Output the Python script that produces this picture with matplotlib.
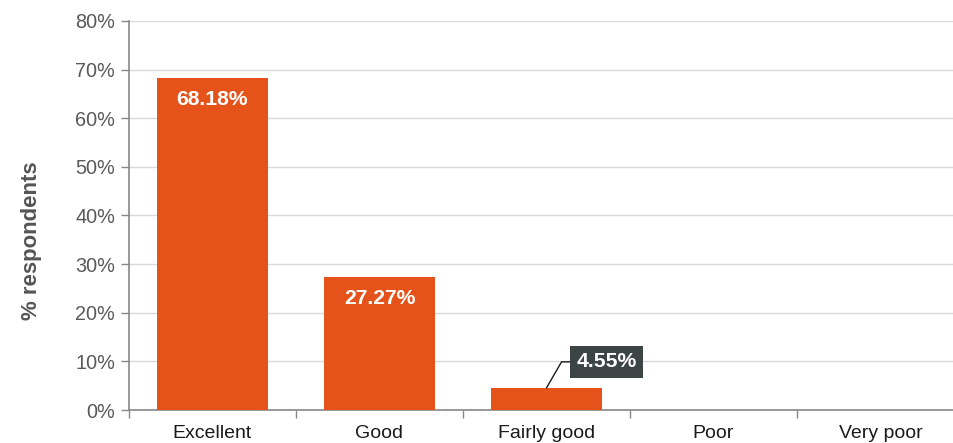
import matplotlib
matplotlib.use("Agg")
import matplotlib.pyplot as plt
import numpy as np

categories = ["Excellent", "Good", "Fairly good", "Poor", "Very poor"]
values = [68.18, 27.27, 4.55, 0, 0]
yticks = [0, 10, 20, 30, 40, 50, 60, 70, 80]

plt.rcParams['font.family'] = ['Liberation Sans', 'DejaVu Sans']

fig = plt.figure(figsize=(9.54, 4.43), dpi=100)
W, H = 954, 443
left, right = 129, 964
top, bottom = 21, 410
ax = fig.add_axes([left / W, 1 - bottom / H, (right - left) / W, (bottom - top) / H])

x = np.arange(len(categories))
bars = ax.bar(x, values, width=0.665, color="#e5531a", zorder=3)

ax.set_xlim(-0.5, len(categories) - 0.5)
ax.set_ylim(0, 80)
ax.set_yticks(yticks)
ax.set_yticklabels([f"{v}%" for v in yticks], color="#595959", fontsize=14.3)
ax.yaxis.grid(True, color="#d9d9d9", linewidth=1, zorder=0)
ax.set_axisbelow(True)

ax.set_xticks(x)
ax.set_xticklabels(categories, fontsize=14, color="#1a1a1a")
ax.set_xticks(np.arange(len(categories) + 1) - 0.5, minor=True)
ax.tick_params(axis='x', which='major', length=0, pad=11)
ax.tick_params(axis='x', which='minor', length=6, color="#888888", width=1)
ax.tick_params(axis='y', length=6, color="#888888", width=1, pad=4)

for s in ["top", "right"]:
    ax.spines[s].set_visible(False)
for s in ["left", "bottom"]:
    ax.spines[s].set_color("#888888")
    ax.spines[s].set_linewidth(1.2)

ax.set_ylabel("% respondents", fontsize=15.9, fontweight="bold", color="#555555")
ax.yaxis.set_label_coords(-0.104, 0.434)

for i, v in enumerate(values):
    if v >= 10:
        ax.text(i, v - 2.4, f"{v:.2f}%", ha="center", va="top", color="white",
                fontsize=15.2, fontweight="bold", zorder=4)
    elif v > 0:
        ax.annotate(f"{v:.2f}%", xy=(i, v), xytext=(i + 0.36, v + 5.35),
                    ha="center", va="center", color="white", fontsize=15.2, fontweight="bold",
                    bbox=dict(boxstyle="square,pad=0.3", fc="#3d4444", ec="none"),
                    arrowprops=dict(arrowstyle="-", color="#1a1a1a", lw=1,
                                    connectionstyle="angle,angleA=0,angleB=60,rad=0",
                                    shrinkA=0, shrinkB=0),
                    zorder=5)

fig.savefig("out.png", dpi=100)
